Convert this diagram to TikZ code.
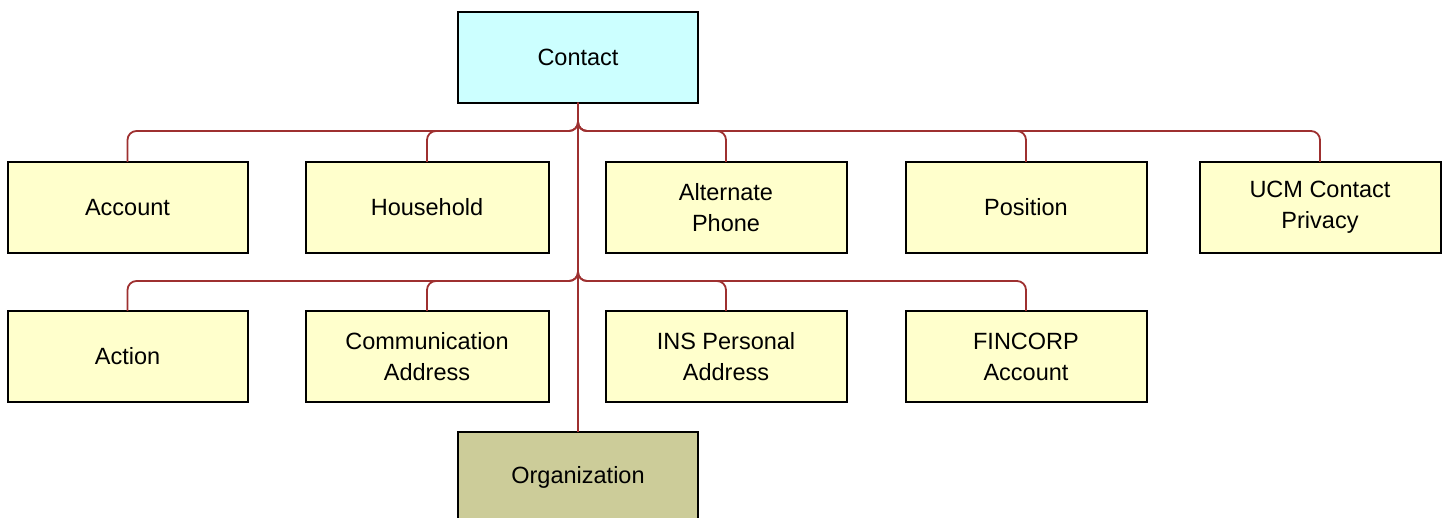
\documentclass[tikz,border=0pt]{standalone}
\usepackage{fontspec}
\setsansfont{Liberation Sans}
\usetikzlibrary{positioning}
\newdimen\hdim
\newdimen\wdim
\hdim=91pt
\wdim=240pt
\definecolor{entityyellow}{RGB}{255,255,204}
\definecolor{entitycyan}{RGB}{204,255,255}
\definecolor{entityolive}{RGB}{204,204,153}
\definecolor{linkred}{RGB}{158,48,48}
\tikzstyle{entity}=[
  draw=black,
  fill=entityyellow,
  font={\fontsize{23.5}{31}\selectfont\sffamily},
  align=center,
  inner sep=0pt,
  line width=2pt,
  minimum height=\hdim,
  minimum width=\wdim,
  outer sep=0pt,
  rectangle,
]
\tikzstyle{link}=[
  draw=linkred,
  line width=1.8pt,
  rounded corners=9pt,
]
\tikzset{
  x=1pt, y=-1pt,
  node distance=58pt,
}

\begin{document}
\begin{tikzpicture}
  \useasboundingbox (0,0) rectangle (1445,518);
  \node (contact) [entity, fill=entitycyan] at (578,57.5) {Contact};
  % first row
  \node (account) [entity] at (127.5,207.5) {Account};
  \node (household) [entity, minimum width=243pt, right=of account] {Household};
  \node (altphone) [entity, minimum width=241pt, right=57pt of household] {Alternate\\Phone};
  \node (position) [entity, minimum width=241pt, right=59pt of altphone] {Position};
  \node (ucm) [entity, minimum width=241pt, right=53pt of position] {UCM Contact\\Privacy};
  % second row
  \node (action) [entity, below=of account] {Action};
  \node (commaddr) [entity, minimum width=243pt, right=of action] {Communication\\Address};
  \node (insaddr) [entity, minimum width=241pt, right=57pt of commaddr] {INS Personal\\Address};
  \node (fincorp) [entity, minimum width=241pt, right=59pt of insaddr] {FINCORP\\Account};
  \node (org) [entity, fill=entityolive] at (578,477) {Organization};
  \coordinate (busA) at (578,131);
  \coordinate (busB) at (578,281);
  \draw [link, line width=2.6pt] (contact) -- (org);
  \foreach \n in {account,household,altphone,position,ucm}
    \draw [link] (contact.south) -- (busA) -| (\n.north);
  \foreach \n in {action,commaddr,insaddr,fincorp}
    \draw [link] (contact.south) -- (busB) -| (\n.north);
\end{tikzpicture}
\end{document}
